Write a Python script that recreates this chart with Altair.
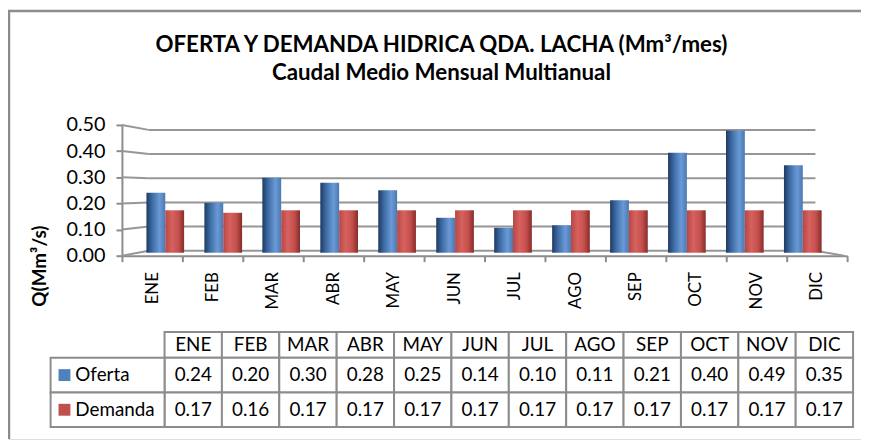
import altair as alt
import pandas as pd

# ---------------- data ----------------
months = ['ENE', 'FEB', 'MAR', 'ABR', 'MAY', 'JUN', 'JUL', 'AGO', 'SEP', 'OCT', 'NOV', 'DIC']
oferta = [0.24, 0.20, 0.30, 0.28, 0.25, 0.14, 0.10, 0.11, 0.21, 0.40, 0.49, 0.35]
demanda = [0.17, 0.16, 0.17, 0.17, 0.17, 0.17, 0.17, 0.17, 0.17, 0.17, 0.17, 0.17]
series = ['Oferta', 'Demanda']
series_colors = ['#4F81BD', '#C0504D']
y_ticks = [0.0, 0.1, 0.2, 0.3, 0.4, 0.5]
title_lines = ['OFERTA Y DEMANDA HIDRICA QDA. LACHA (Mm³/mes)', 'Caudal Medio Mensual Multianual']
y_title = 'Q(Mm³/s)'

long = pd.DataFrame({
    'month': months * 2,
    'series': [series[0]] * len(months) + [series[1]] * len(months),
    'value': oferta + demanda,
})
ticks_df = pd.DataFrame({'v': y_ticks})
months_df = pd.DataFrame({'month': months, 'row': ['hdr'] * len(months)})
labels_df = pd.DataFrame({'series': series})

FONT = 'Lato'
GRID = '#969696'
LINE = '#8c8c8c'

# ---------------- scales ----------------
x_front = alt.Scale(domain=months, range=[115, 847], paddingInner=0, paddingOuter=0)
y_front = alt.Scale(domain=[0, 0.5], range=[248, 116])
y_back = alt.Scale(domain=[0, 0.5], range=[243, 121])
x_bar = alt.Scale(domain=months, range=[129.5, 831.5], paddingInner=0.35, paddingOuter=0.175)
y_bar = alt.Scale(domain=[0, 0.5], range=[245, 119])
x_tab = alt.Scale(domain=months, range=[158, 853], paddingInner=0, paddingOuter=0)
y_hdr = alt.Scale(domain=['hdr'], range=[325, 351], paddingInner=0, paddingOuter=0)
y_rows = alt.Scale(domain=series, range=[351, 421], paddingInner=0, paddingOuter=0)
color_scale = alt.Scale(domain=series, range=series_colors)

# ---------------- walls / gridlines ----------------
back_grid = alt.Chart(ticks_df).mark_rule(color=GRID, strokeWidth=2).encode(
    x=alt.value(142), x2=alt.value(815),
    y=alt.Y('v:Q', scale=y_back, axis=None),
)

side_grid = alt.Chart(ticks_df).transform_calculate(
    v2='(5 + 244 * datum.v) / 264'
).mark_rule(color=GRID, strokeWidth=2).encode(
    x=alt.value(115), x2=alt.value(142),
    y=alt.Y('v:Q', scale=y_front, axis=alt.Axis(
        orient='left', offset=-115, values=y_ticks, format='.2f',
        labelFont=FONT, labelFontSize=20, labelColor='black', labelPadding=11,
        tickSize=6, tickColor=LINE, tickWidth=2, domainColor=LINE, domainWidth=2,
        grid=False, title=y_title, titleFont=FONT, titleFontSize=19,
        titleFontWeight='bold', titleColor='black', titleAngle=270,
        titleX=-83, titleY=258, titleAlign='center', titleBaseline='middle',
    )),
    y2='v2:Q',
)

floor_edge = alt.Chart(ticks_df).transform_filter(alt.datum.v == 0).mark_rule(
    color=GRID, strokeWidth=2
).encode(
    x=alt.value(815), x2=alt.value(844),
    y=alt.Y('v:Q', scale=y_back, axis=None), y2=alt.value(248),
)

x_axis_layer = alt.Chart(pd.DataFrame({'month': months})).mark_point(opacity=0).encode(
    x=alt.X('month:N', scale=x_front, axis=alt.Axis(
        orient='bottom', offset=-185, labelAngle=270, tickBand='extent',
        labelFont=FONT, labelFontSize=17, labelColor='black', labelPadding=10,
        tickSize=6, tickColor=LINE, tickWidth=2, domainColor=LINE, domainWidth=2,
        grid=False, title=None,
    )),
)

# ---------------- bars ----------------
def bar_layer(name, stops):
    grad = alt.Gradient(
        gradient='linear', x1=0, x2=1, y1=0, y2=0,
        stops=[alt.GradientStop(offset=o, color=c) for o, c in stops],
    )
    return alt.Chart(long).transform_filter(alt.datum.series == name).mark_bar(
        fill=grad
    ).encode(
        x=alt.X('month:N', scale=x_bar, axis=None),
        xOffset=alt.XOffset('series:N', scale=alt.Scale(domain=series)),
        y=alt.Y('value:Q', scale=y_bar, axis=None),
    )

blue_bars = bar_layer('Oferta', [(0, '#1f3a62'), (0.3, '#3c6aa3'), (0.7, '#6a9ad6'), (1, '#4a78b2')])
red_bars = bar_layer('Demanda', [(0, '#b84643'), (0.35, '#d6625f'), (0.7, '#c44f4c'), (1, '#862d2b')])

# ---------------- data table ----------------
hdr_cells = alt.Chart(months_df).mark_rect(fill='white', stroke=LINE, strokeWidth=2).encode(
    x=alt.X('month:N', scale=x_tab, axis=None),
    y=alt.Y('row:N', scale=y_hdr, axis=None),
)
hdr_text = alt.Chart(months_df).mark_text(font=FONT, fontSize=19, color='black').encode(
    x=alt.X('month:N', scale=x_tab, axis=None),
    y=alt.Y('row:N', scale=y_hdr, axis=None),
    text='month:N',
)
val_cells = alt.Chart(long).mark_rect(fill='white', stroke=LINE, strokeWidth=2).encode(
    x=alt.X('month:N', scale=x_tab, axis=None),
    y=alt.Y('series:N', scale=y_rows, axis=None),
)
val_text = alt.Chart(long).mark_text(font=FONT, fontSize=19, color='black').encode(
    x=alt.X('month:N', scale=x_tab, axis=None),
    y=alt.Y('series:N', scale=y_rows, axis=None),
    text=alt.Text('value:Q', format='.2f'),
)
lbl_cells = alt.Chart(labels_df).mark_rect(fill='white', stroke=LINE, strokeWidth=2).encode(
    x=alt.value(43), x2=alt.value(158),
    y=alt.Y('series:N', scale=y_rows, axis=None),
)
lbl_swatch = alt.Chart(labels_df).mark_square(size=144, opacity=1, filled=True).encode(
    x=alt.value(57),
    y=alt.Y('series:N', scale=y_rows, axis=None),
    color=alt.Color('series:N', scale=color_scale, legend=None),
)
lbl_text = alt.Chart(labels_df).mark_text(font=FONT, fontSize=19, color='black', align='left').encode(
    x=alt.value(68),
    y=alt.Y('series:N', scale=y_rows, axis=None),
    text='series:N',
)

# ---------------- outer frame ----------------
frame_left = alt.Chart(ticks_df).transform_filter(alt.datum.v == 0).mark_rule(color=LINE, strokeWidth=2.5).encode(
    x=alt.value(1), y=alt.value(0), y2=alt.value(433),
)
frame_top = alt.Chart(ticks_df).transform_filter(alt.datum.v == 0).mark_rule(color=LINE, strokeWidth=2.5).encode(
    x=alt.value(0), x2=alt.value(861), y=alt.value(1),
)

chart = alt.layer(
    frame_left, frame_top,
    back_grid, side_grid, floor_edge, x_axis_layer,
    blue_bars, red_bars,
    hdr_cells, hdr_text, val_cells, val_text, lbl_cells, lbl_swatch, lbl_text,
).resolve_scale(
    x='independent', y='independent'
).properties(
    width=861, height=433,
    autosize=alt.AutoSizeParams(type='none'),
    padding=0,
    title=alt.TitleParams(
        text=title_lines, font=FONT, fontSize=22.5, fontWeight='bold', color='black',
        anchor='middle', offset=-76, lineHeight=28, dx=7,
    ),
).configure_view(stroke=None).configure(background='white')

chart.save('out.html', embed_options={'renderer': 'svg', 'actions': False})
